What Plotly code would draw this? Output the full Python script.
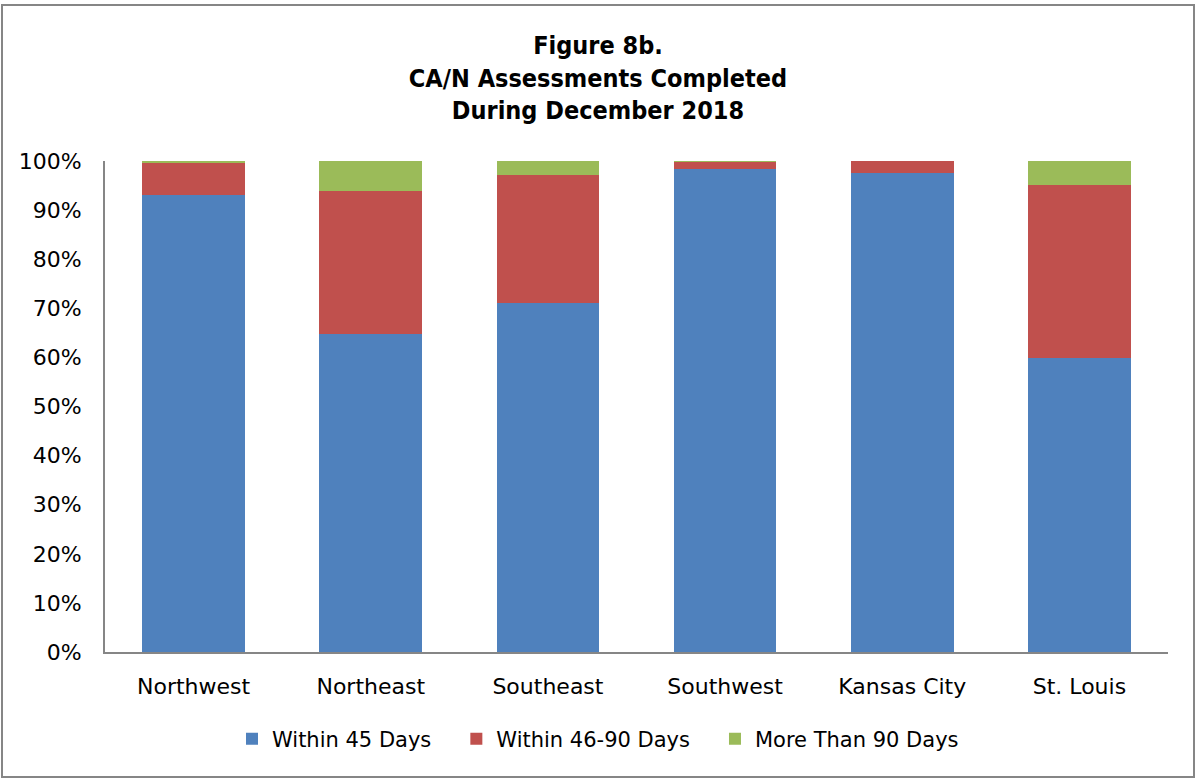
import plotly.graph_objects as go

categories = ["Northwest", "Northeast", "Southeast", "Southwest", "Kansas City", "St. Louis"]
within_45 = [93.1, 64.8, 71.1, 98.3, 97.5, 59.9]
within_46_90 = [6.6, 29.1, 26.1, 1.5, 2.5, 35.3]
more_than_90 = [0.3, 6.1, 2.8, 0.2, 0.0, 4.8]
series_names = ["Within 45 Days", "Within 46-90 Days", "More Than 90 Days"]
tick_vals = [0, 10, 20, 30, 40, 50, 60, 70, 80, 90, 100]
tick_text = [f"{v}%" for v in tick_vals]

W, H = 1195, 778
L, R, T, B = 105, 27, 161, 126
pw, ph = W - L - R, H - T - B

def px_x(x):
    return (x - L) / pw

def px_y(y):
    return (H - B - y) / ph

fig = go.Figure()
colors = ["#4F81BD", "#C0504D", "#9BBB59"]
pads = ["\u00a0\u00a0\u00a0", "\u00a0\u00a0\u00a0", ""]
for name, vals, col, pad in zip(series_names, [within_45, within_46_90, more_than_90], colors, pads):
    fig.add_trace(go.Bar(
        x=categories, y=vals, name=name + pad,
        marker=dict(color=col, line=dict(width=0)),
        width=0.58,
    ))

fig.update_layout(
    barmode="stack",
    width=W, height=H,
    margin=dict(l=L, r=R, t=T, b=B),
    paper_bgcolor="white", plot_bgcolor="white",
    font=dict(family="DejaVu Sans", size=22, color="black"),
    title=dict(
        text="<b>Figure 8b.<br>CA/N Assessments Completed<br>During December 2018</b>",
        x=598 / W, xanchor="center",
        y=1 - 54 / H, yanchor="top",
        font=dict(family="DejaVu Sans Condensed, DejaVu Sans", size=25, color="black"),
    ),
    showlegend=True,
    legend=dict(
        orientation="h", x=px_x(598), xanchor="center",
        y=px_y(739), yanchor="middle",
        font=dict(family="DejaVu Sans", size=21),
        traceorder="normal", itemwidth=30,
    ),
    xaxis=dict(
        showline=True, linecolor="#868686", linewidth=2,
        ticks="", tickfont=dict(size=22), showgrid=False,
        ticklabelstandoff=14,
    ),
    yaxis=dict(
        range=[0, 100], tickvals=tick_vals, ticktext=tick_text,
        showline=True, linecolor="#868686", linewidth=2,
        ticks="", showgrid=False, zeroline=False, tickfont=dict(size=22),
        ticklabelstandoff=17,
    ),
    shapes=[dict(
        type="rect", xref="paper", yref="paper",
        x0=px_x(2), x1=px_x(1194), y0=px_y(777), y1=px_y(5),
        line=dict(color="#868686", width=2), fillcolor="rgba(0,0,0,0)",
        layer="below",
    )],
)

fig.write_html("out.html", config={"displayModeBar": False},
               post_script="document.body.style.margin='0';")
